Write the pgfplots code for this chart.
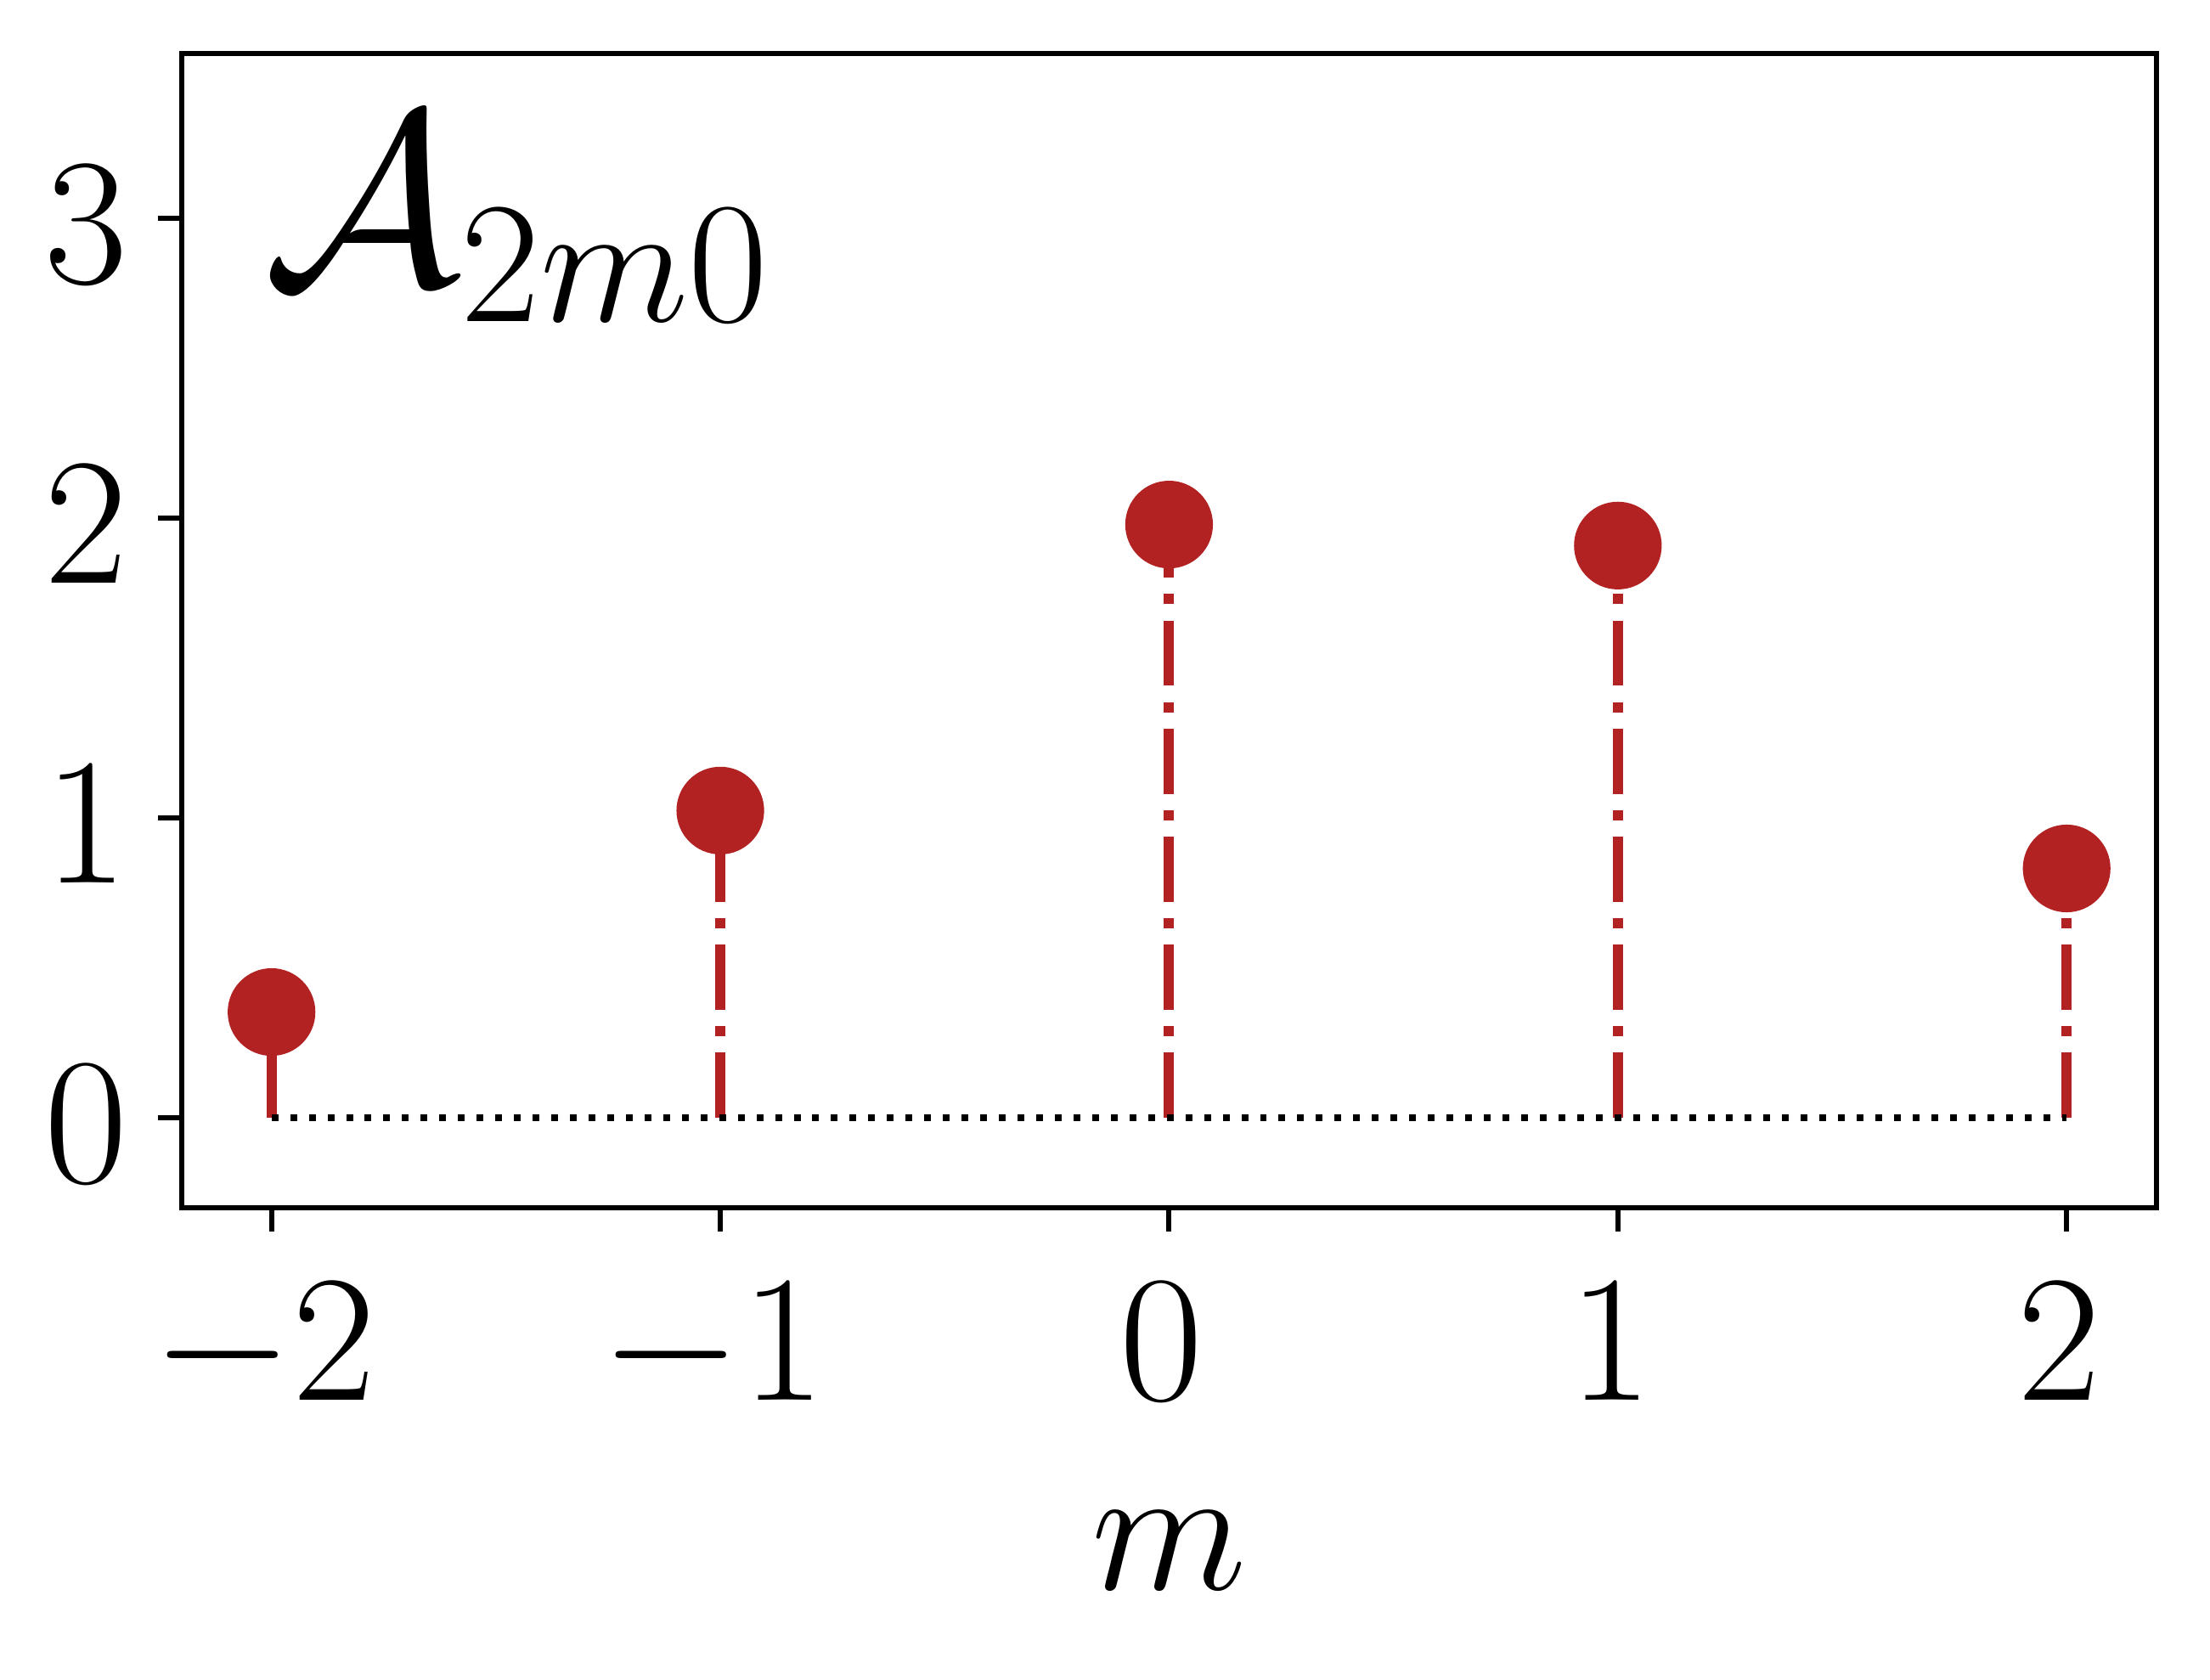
\RequirePackage{fix-cm}
\documentclass[border=0pt]{standalone}
\usepackage{pgfplots}
\pgfplotsset{compat=1.18}
\definecolor{fb}{RGB}{178,34,34}
\begin{document}
\begin{tikzpicture}
\begin{axis}[name=ax, scale only axis, width=387.5pt, height=226.5pt,
  xmin=-2.2, xmax=2.2, ymin=-0.3, ymax=3.55,
  xtick={-2,-1,0,1,2}, ytick={0,1,2,3},
  tick pos=left, tick align=outside, major tick length=4.67pt,
  every tick/.style={black, line width=1pt},
  axis line style={line width=1pt},
  tick label style={font=\fontsize{35.5}{42}\selectfont},
  xticklabel style={anchor=north, inner sep=0pt, yshift=-10pt, xshift=-1.5pt},
  yticklabel style={anchor=east, inner sep=0pt, xshift=-5.8pt, yshift=-1.3pt},
  xlabel={$m$},
  xlabel style={at={(axis description cs:0.5,-0.331)}, anchor=base, inner sep=0pt, font=\fontsize{35.5}{42}\selectfont},
  clip=false]
\addplot[ycomb, color=fb, line width=2pt, dash pattern=on 12.8pt off 3.2pt on 2pt off 3.2pt,
  mark=*, mark size=7.6pt, mark options={solid, fill=fb, draw=none}] table {
x y
-2 0.353
-1 1.025
0 1.979
1 1.909
2 0.832
};
\addplot[black, line width=1.33pt, dash pattern=on 1.33pt off 2.33pt] coordinates {(-2,0) (2,0)};
\node[anchor=base west, inner sep=0pt, font=\fontsize{48.5}{58}\selectfont] at (axis description cs:0.041,0.800) {$\mathcal{A}_{2m0}$};
\end{axis}
\path (ax.south west) ++(-35.67pt,-92.65pt) rectangle ([shift={(10.52pt,10.52pt)}]ax.north east);
\end{tikzpicture}
\end{document}
